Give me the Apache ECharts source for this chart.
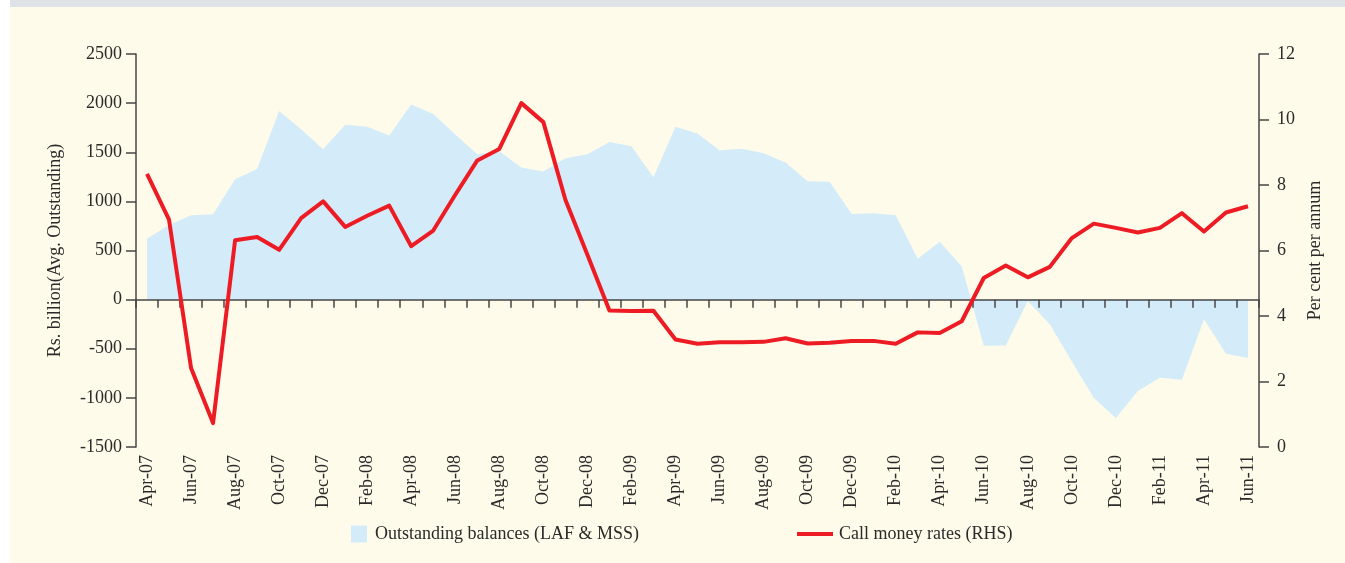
<!DOCTYPE html>
<html>
<head>
<meta charset="utf-8">
<script src="https://cdn.jsdelivr.net/npm/echarts@6/dist/echarts.min.js"></script>
<style>
html,body{margin:0;padding:0;background:#fff;}
#chart{width:1345px;height:563px;}
</style>
</head>
<body>
<div id="chart"></div>
<script>
const months = ['Apr-07','May-07','Jun-07','Jul-07','Aug-07','Sep-07','Oct-07','Nov-07','Dec-07','Jan-08','Feb-08','Mar-08',
'Apr-08','May-08','Jun-08','Jul-08','Aug-08','Sep-08','Oct-08','Nov-08','Dec-08','Jan-09','Feb-09','Mar-09',
'Apr-09','May-09','Jun-09','Jul-09','Aug-09','Sep-09','Oct-09','Nov-09','Dec-09','Jan-10','Feb-10','Mar-10',
'Apr-10','May-10','Jun-10','Jul-10','Aug-10','Sep-10','Oct-10','Nov-10','Dec-10','Jan-11','Feb-11','Mar-11',
'Apr-11','May-11','Jun-11'];
const balances = [620, 760, 860, 870, 1225, 1330, 1920, 1735, 1530, 1780, 1760, 1670, 1985, 1890, 1680, 1480, 1510, 1345, 1305, 1440, 1480, 1605, 1560, 1245, 1760, 1690, 1520, 1535, 1490, 1395, 1205, 1200, 872, 878, 858, 417, 590, 340, -470, -468, -15, -250, -630, -1000, -1205, -930, -795, -815, -200, -550, -595];
const rates = [8.34, 6.94, 2.41, 0.73, 6.31, 6.41, 6.02, 6.99, 7.50, 6.72, 7.06, 7.37, 6.13, 6.61, 7.70, 8.75, 9.10, 10.50, 9.92, 7.55, 5.87, 4.17, 4.15, 4.16, 3.28, 3.15, 3.20, 3.20, 3.21, 3.32, 3.16, 3.18, 3.24, 3.24, 3.15, 3.50, 3.48, 3.84, 5.16, 5.54, 5.18, 5.50, 6.38, 6.82, 6.69, 6.55, 6.69, 7.14, 6.58, 7.16, 7.35];
const seriesNames = ['Outstanding balances (LAF & MSS)', 'Call money rates (RHS)'];
const leftAxisName = 'Rs. billion(Avg. Outstanding)';
const rightAxisName = 'Per cent per annum';

const FONT = '"Liberation Serif", serif';
const AXIS_COLOR = '#464646';
const TEXT_COLOR = '#2a2a2a';

const chart = echarts.init(document.getElementById('chart'), null, {renderer: 'canvas'});
chart.setOption({
  backgroundColor: '#fffbea',
  animation: false,
  textStyle: {fontFamily: FONT},
  graphic: [
    {type: 'rect', left: 0, top: 0, shape: {width: 10, height: 563}, style: {fill: '#ffffff'}, silent: true},
    {type: 'rect', left: 10, top: 0, shape: {width: 1335, height: 7}, style: {fill: '#dfe3e8'}, silent: true}
  ],
  grid: {left: 136, right: 86, top: 54, bottom: 116, containLabel: false},
  legend: [
    {
      data: [{name: seriesNames[0], icon: 'rect'}],
      left: 346, top: 520, itemWidth: 16, itemHeight: 17, itemGap: 0,
      textStyle: {fontFamily: FONT, fontSize: 18, color: TEXT_COLOR, padding: [0, 0, 0, 3]}
    },
    {
      data: [{name: seriesNames[1], icon: 'rect'}],
      left: 792, top: 520, itemWidth: 36, itemHeight: 4, itemGap: 0,
      textStyle: {fontFamily: FONT, fontSize: 18, color: TEXT_COLOR, padding: [0, 0, 0, 1]}
    }
  ],
  xAxis: [
    {
      type: 'category', data: months, boundaryGap: true, position: 'bottom',
      axisLine: {onZero: true, onZeroAxisIndex: 0, lineStyle: {color: AXIS_COLOR, width: 1.5}},
      axisTick: {show: true, interval: 0, length: 8, lineStyle: {color: AXIS_COLOR, width: 1.5}},
      axisLabel: {show: false},
      splitLine: {show: false},
      z: 5
    },
    {
      type: 'category', data: months, boundaryGap: true, position: 'bottom',
      axisLine: {show: false, onZero: false},
      axisTick: {show: false},
      axisLabel: {show: true, interval: 1, rotate: 90, margin: 8, fontFamily: FONT, fontSize: 18, color: TEXT_COLOR},
      splitLine: {show: false}
    }
  ],
  yAxis: [
    {
      type: 'value', position: 'left', min: -1500, max: 2500, interval: 500,
      name: leftAxisName, nameLocation: 'middle', nameGap: 72, nameRotate: 90,
      nameTextStyle: {fontFamily: FONT, fontSize: 18, color: TEXT_COLOR},
      axisLine: {show: true, lineStyle: {color: AXIS_COLOR, width: 1.5}},
      axisTick: {show: true, length: 10, lineStyle: {color: AXIS_COLOR, width: 1.5}},
      axisLabel: {margin: 14, fontFamily: FONT, fontSize: 18, color: TEXT_COLOR, formatter: v => String(v)},
      splitLine: {show: false}
    },
    {
      type: 'value', position: 'right', min: 0, max: 12, interval: 2,
      name: rightAxisName, nameLocation: 'middle', nameGap: 45, nameRotate: 90,
      nameTextStyle: {fontFamily: FONT, fontSize: 18, color: TEXT_COLOR},
      axisLine: {show: true, lineStyle: {color: AXIS_COLOR, width: 1.5}},
      axisTick: {show: true, length: 10, lineStyle: {color: AXIS_COLOR, width: 1.5}},
      axisLabel: {margin: 18, fontFamily: FONT, fontSize: 18, color: TEXT_COLOR, formatter: v => String(v)},
      splitLine: {show: false}
    }
  ],
  series: [
    {
      name: seriesNames[0], type: 'line', xAxisIndex: 0, yAxisIndex: 0,
      data: balances, symbol: 'none', smooth: false,
      lineStyle: {width: 0, color: '#d4ecf9'},
      itemStyle: {color: '#d4ecf9'},
      areaStyle: {color: '#d4ecf9', opacity: 1, origin: 0},
      z: 1
    },
    {
      name: seriesNames[1], type: 'line', xAxisIndex: 0, yAxisIndex: 1,
      data: rates, symbol: 'none', smooth: false,
      lineStyle: {width: 4, color: '#ed1c24', join: 'round'},
      itemStyle: {color: '#ed1c24'},
      z: 10
    }
  ]
});
</script>
</body>
</html>
